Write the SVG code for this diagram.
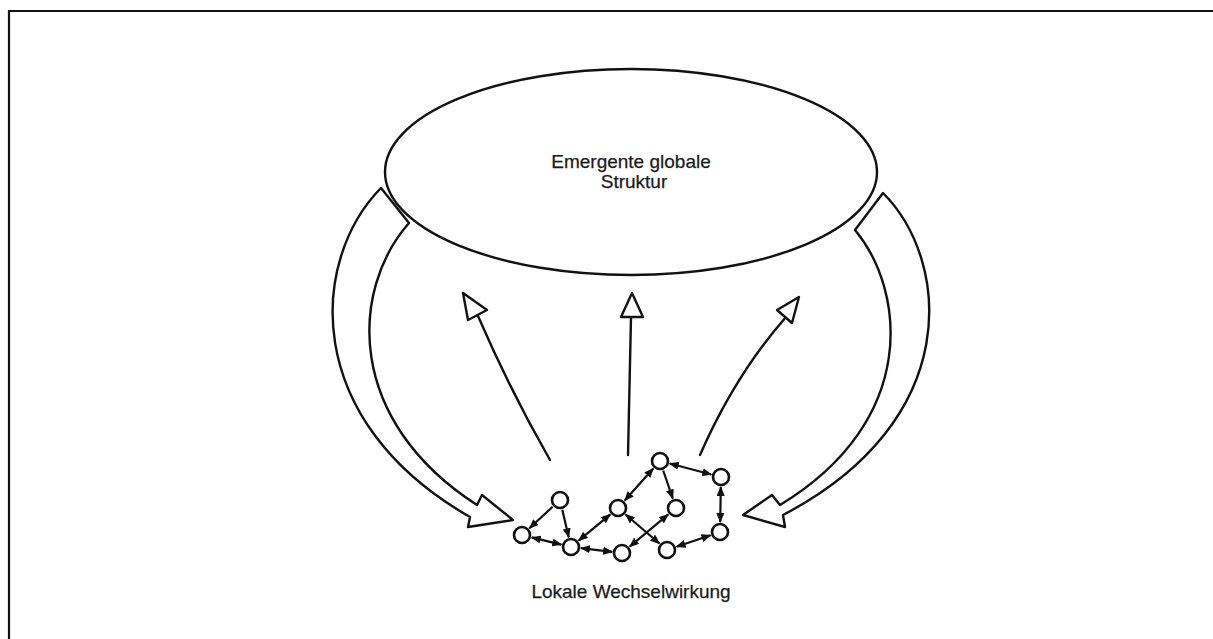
<svg xmlns="http://www.w3.org/2000/svg" width="1213" height="639" viewBox="0 0 1213 639">
<style>
.ln{fill:none;stroke:#111;stroke-width:2.4;stroke-linecap:round;stroke-linejoin:round}
.bg{fill:#fff;stroke:#111;stroke-width:2.4;stroke-linejoin:round}
.nd{fill:#fff;stroke:#111;stroke-width:2.6}
.ed{fill:none;stroke:#111;stroke-width:2.2}
.tx{font-family:"Liberation Sans",Arial,sans-serif;font-size:19px;fill:#1a1a1a;text-anchor:middle;stroke:#1a1a1a;stroke-width:0.25}
</style>
<defs>
<marker id="ah" markerUnits="userSpaceOnUse" markerWidth="10" markerHeight="8" refX="9" refY="4" orient="auto-start-reverse">
<path d="M0,0 L10,4 L0,8 z" fill="#111"/>
</marker>
</defs>
<rect width="1213" height="639" fill="#fff"/>
<path d="M9,639 V11 H1213" fill="none" stroke="#111" stroke-width="2.2"/>
<g id="feedback-left">
<path class="bg" d="M381,188 L409,223 C350,290 345,420 477,505 L482,495 L513,520 L468,527 L470,517 C300,420 310,260 381,188 Z"/>
</g>
<g id="feedback-right">
<path class="bg" d="M883,193 L855,230 C905,290 920,420 780,505 L772,495 L743,515 L785,527 L783,515 C965,420 950,260 883,193 Z"/>
</g>
<g id="global">
<ellipse cx="631" cy="172" rx="246" ry="103" class="ln"/>
<text class="tx" x="631" y="168">Emergente globale</text>
<text class="tx" x="634" y="188">Struktur</text>
</g>
<g id="emergence">
<path class="ln" d="M550,460 Q510,390 478,316"/>
<path class="bg" d="M463,293 L468,320 L487,310 Z"/>
<path class="ln" d="M628,455 L631,317"/>
<path class="bg" d="M632,293 L621,317 L643,317 Z"/>
<path class="ln" d="M700,455 Q735,375 786,317"/>
<path class="bg" d="M799,297 L777,310 L792,323 Z"/>
</g>
<g id="connectors">
<line class="ed" x1="552.6" y1="506.8" x2="529.4" y2="528.2" marker-end="url(#ah)"/>
<line class="ed" x1="562.3" y1="509.7" x2="568.7" y2="537.3" marker-end="url(#ah)"/>
<line class="ed" x1="531.7" y1="537.4" x2="561.3" y2="544.6" marker-start="url(#ah)" marker-end="url(#ah)"/>
<line class="ed" x1="580.9" y1="548.2" x2="612.1" y2="551.8" marker-start="url(#ah)" marker-end="url(#ah)"/>
<line class="ed" x1="578.7" y1="540.6" x2="610.3" y2="514.4" marker-start="url(#ah)" marker-end="url(#ah)"/>
<line class="ed" x1="624.7" y1="500.5" x2="653.3" y2="468.5" marker-start="url(#ah)" marker-end="url(#ah)"/>
<line class="ed" x1="663.2" y1="470.5" x2="672.8" y2="498.5" marker-end="url(#ah)"/>
<line class="ed" x1="669.7" y1="463.5" x2="711.3" y2="474.5" marker-start="url(#ah)" marker-end="url(#ah)"/>
<line class="ed" x1="720.8" y1="487" x2="720.2" y2="522" marker-start="url(#ah)" marker-end="url(#ah)"/>
<line class="ed" x1="710.5" y1="535.2" x2="676.5" y2="546.8" marker-start="url(#ah)" marker-end="url(#ah)"/>
<line class="ed" x1="625.6" y1="514.5" x2="659.4" y2="543.5" marker-start="url(#ah)" marker-end="url(#ah)"/>
<line class="ed" x1="629.7" y1="546.6" x2="668.3" y2="514.4" marker-start="url(#ah)" marker-end="url(#ah)"/>
</g>
<g id="n1"><circle class="nd" cx="560" cy="500" r="8"/></g>
<g id="n2"><circle class="nd" cx="522" cy="535" r="8"/></g>
<g id="n3"><circle class="nd" cx="571" cy="547" r="8"/></g>
<g id="n4"><circle class="nd" cx="622" cy="553" r="8"/></g>
<g id="n5"><circle class="nd" cx="618" cy="508" r="8"/></g>
<g id="n6"><circle class="nd" cx="660" cy="461" r="8"/></g>
<g id="n7"><circle class="nd" cx="676" cy="508" r="8"/></g>
<g id="n8"><circle class="nd" cx="721" cy="477" r="8"/></g>
<g id="n9"><circle class="nd" cx="720" cy="532" r="8"/></g>
<g id="n10"><circle class="nd" cx="667" cy="550" r="8"/></g>
<g id="local">
<text class="tx" x="631" y="598">Lokale Wechselwirkung</text>
</g>
</svg>
